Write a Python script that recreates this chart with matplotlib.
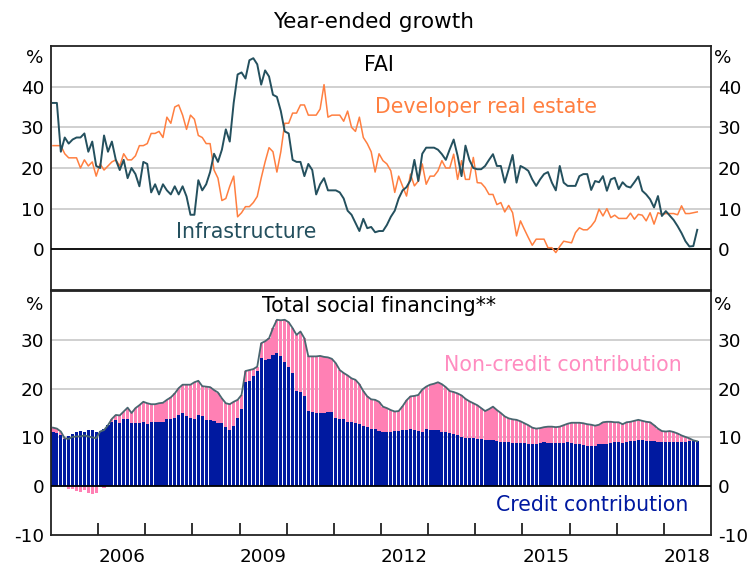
import numpy as np
import matplotlib
matplotlib.use("Agg")
import matplotlib.pyplot as plt
import matplotlib.transforms as mtransforms

plt.rcParams["font.family"] = ["DejaVu Sans"]

# monthly, Jan 2005 - Sep 2018, year-ended growth (%)
infrastructure = [
    36, 36, 24, 27.5, 26, 27, 27.5, 27.5, 28.5, 24, 26.5, 20.5,
    20, 28, 24, 26.5, 22, 19.5, 22, 17.5, 20, 18.5, 15.5, 21.5,
    21, 14, 16, 13.5, 16, 14.5, 13.5, 15.5, 13.5, 15.5, 13, 8.5,
    8.5, 17, 14.5, 16, 19, 23.5, 21.5, 24.5, 29.5, 26.5, 36, 43,
    43.5, 42, 46.5, 47, 45.5, 40.5, 44, 42.5, 38, 37.5, 34, 29,
    28.5, 22, 21.5, 21.5, 18, 21, 19.5, 13.5, 16, 17.5, 14.5, 14.5,
    14.5, 14, 12.5, 9.5, 8.5, 6.5, 4.5, 7.5, 5.2, 5.5, 4.2, 4.5,
    4.5, 6, 8, 9.5, 12.5, 14.5, 15.3, 17, 22, 16.8, 23.5, 25,
    25, 25, 24.5, 23.4, 22, 24.6, 27, 23, 18, 25.5, 22, 20,
    19.7, 19.7, 20.5, 22, 23.4, 20.5, 20.5, 16.4, 19.7, 23.2, 16.4, 20.5,
    20, 19.3, 17.2, 15.6, 17.2, 18.5, 19, 16.4, 14.5, 20.5, 16.4, 15.6,
    15.6, 15.6, 18, 18.5, 18.5, 14.6, 16.8, 16.5, 18, 14.4, 17.2, 17.6,
    14.8, 16.5, 15.5, 15.2, 16.5, 17.9, 14.4, 13.5, 12.3, 10.3, 13.1, 8.2,
    9.4, 8.3, 7.2, 5.7, 4, 2, 0.7, 0.8, 4.8,
]

developer_real_estate = [
    25.5, 25.5, 25.5, 23.5, 22.5, 22.5, 22.5, 20, 22, 20.5, 21.5, 18,
    21, 19.5, 20.5, 21.5, 22, 20.5, 23.5, 22, 22, 23, 25.5, 25.5,
    26, 28.5, 28.5, 29, 27.5, 32.5, 31, 35, 35.5, 33, 29.5, 33,
    32, 28, 27.5, 26, 26, 19.5, 17.5, 12, 12.5, 15.5, 18, 8,
    9, 10.5, 10.5, 11.5, 13, 17.5, 21.5, 25, 24, 19, 24, 31,
    31, 33.5, 33.5, 35.5, 35.5, 33, 33, 33, 34.5, 40.5, 32.5, 33,
    33, 33, 31.5, 34, 30, 29, 32.5, 27.5, 26, 24, 19, 23.5,
    21.8, 21, 19.3, 14, 18, 15.5, 13.1, 18.5, 15.6, 16.8, 21, 16,
    18, 18, 19.3, 21.8, 20, 20, 23.4, 17.2, 21.8, 17.2, 17.2, 22.6,
    16.4, 16.3, 15.2, 13.5, 13.5, 11, 11.5, 9.2, 10.8, 9, 3.3, 7,
    4.9, 2.9, 1, 2.5, 2.5, 2.5, 0.4, 0.4, -0.8, 0.7, 2, 1.8,
    1.6, 4.1, 5.3, 4.8, 4.8, 5.7, 7, 9.9, 8.2, 10, 7.8, 8.4,
    7.6, 7.6, 7.6, 8.9, 7.4, 8.6, 8.4, 7, 9, 6.2, 9, 8.6,
    8.8, 8.8, 8.8, 8.5, 10.7, 8.8, 8.8, 9, 9.2,
]

tsf_total = [
    12, 11.8, 11.2, 9.8, 9.7, 10.1, 10.2, 10.2, 10.4, 10.2, 10.0, 9.8,
    11.2, 11.5, 12.5, 13.8, 14.6, 14.5, 15.3, 16.1, 15, 16, 16.6, 17.3,
    17, 16.8, 16.8, 17, 17.1, 17.7, 18.2, 19, 20.1, 20.8, 20.8, 20.8,
    21.3, 21.6, 20.5, 20.4, 20.3, 19.7, 19.2, 18, 17, 16.8, 17.3, 17.7,
    18.7, 23.6, 23.8, 24.0, 24.5, 29.3, 29.7, 30.3, 32.4, 34.1, 34, 34.1,
    33.6, 32.4, 31, 31.7, 30.3, 26.6, 26.6, 26.6, 26.7, 26.5, 26.4, 26.1,
    25.2, 23.8, 23.2, 22.7, 22.1, 21.8, 20.9, 19.5, 18.4, 17.8, 17.7, 17.3,
    16.3, 16, 15.6, 15.3, 15.4, 16.4, 17.6, 18.4, 18.5, 18.7, 19.8, 20.4,
    20.8, 21, 21.3, 20.9, 20.3, 19.5, 19.3, 19, 18.6, 17.9, 17.4, 17,
    16.6, 16, 15.4, 15.8, 16.3, 15.6, 15, 14.3, 13.9, 13.7, 13.6, 13.3,
    12.9, 12.5, 12, 11.8, 11.9, 12.1, 12.2, 12.2, 12.1, 12.2, 12.5, 12.8,
    13, 13, 13, 12.9, 12.7, 12.6, 12.4, 12.6, 13.1, 13.2, 13.2, 13.1,
    13.1, 12.7, 13.1, 13.2, 13.4, 13.6, 13.4, 13.2, 13.1, 12.5, 11.8, 11.3,
    11.2, 11.3, 11.1, 10.8, 10.4, 10.1, 9.8, 9.4, 9.2,
]

tsf_credit = [
    11.2, 10.8, 10.5, 9.7, 10.3, 10.7, 11.2, 11.4, 11.2, 11.6, 11.5, 11.1,
    11.3, 11.8, 12.5, 13.2, 13.6, 12.9, 13.7, 13.7, 12.9, 12.9, 12.9, 13.1,
    12.7, 13.2, 13.2, 13.2, 13.2, 13.7, 13.7, 14, 14.6, 14.9, 14.4, 14.0,
    13.7, 14.6, 14.4, 13.6, 13.5, 13.4, 12.9, 12.9, 12.2, 11.5, 12.3, 14,
    15.8, 21.4, 21.6, 22.5, 23.6, 26.2, 25.9, 26, 26.8, 27.3, 26.6, 25.5,
    24.5, 23.2, 19.5, 19.4, 18.4, 15.4, 15.3, 14.9, 14.9, 14.9, 15.3, 15.2,
    13.9, 13.8, 13.7, 13.2, 13.2, 12.9, 12.7, 12.4, 12.1, 11.8, 11.7, 11.3,
    11.2, 11.2, 11.2, 11.3, 11.4, 11.5, 11.6, 11.7, 11.5, 11.4, 11.2, 11.7,
    11.6, 11.6, 11.6, 11.2, 11.1, 11, 10.7, 10.5, 10.1, 9.9, 9.9, 9.8,
    9.7, 9.7, 9.5, 9.5, 9.5, 9.2, 9.1, 9.0, 9.0, 8.9, 8.9, 8.9,
    8.8, 8.7, 8.6, 8.6, 8.8, 9.0, 8.9, 8.9, 8.9, 8.9, 8.9, 9.0,
    8.8, 8.7, 8.6, 8.5, 8.3, 8.3, 8.3, 8.6, 8.6, 8.6, 8.8, 9.0,
    9.0, 8.9, 9.1, 9.2, 9.3, 9.5, 9.4, 9.3, 9.3, 9.2, 9.1, 9.0,
    9.0, 9.0, 9.0, 9.0, 9.0, 9.1, 9.2, 9.2, 9.2,
]

year_ticks = list(range(2006, 2019))
label_years = [2006, 2009, 2012, 2015, 2018]

n = len(infrastructure)
t = 2005 + (np.arange(n) + 0.5) / 12
credit = np.array(tsf_credit)
total = np.array(tsf_total)
noncredit = total - credit

c_infra = "#24505e"
c_dev = "#ff7f40"
c_credit = "#0019a0"
c_noncredit = "#ff80b4"
c_total = "#4a6670"
c_grid = "#c4c4c4"

TICK_FS = 13.2
LABEL_FS = 14.8

fig = plt.figure(figsize=(7.49, 5.69), dpi=100)
ax1 = fig.add_axes([51 / 749, 1 - 290 / 569, 660 / 749, 244 / 569])
ax2 = fig.add_axes([51 / 749, 1 - 535 / 569, 660 / 749, 244 / 569])


def style(ax, ylim, yticks, grid, pct_y):
    ax.set_xlim(2005, 2019)
    ax.set_ylim(*ylim)
    for s in ax.spines.values():
        s.set_linewidth(1.3)
        s.set_color("#222222")
    for g in grid:
        ax.axhline(g, color=c_grid, lw=1.1, zorder=0)
    ax.axhline(0, color="black", lw=1.3, zorder=3)
    ax.set_yticks(yticks)
    ax.set_yticklabels([str(v) for v in yticks])
    ax.tick_params(axis="y", length=0, labelsize=TICK_FS, pad=5,
                   left=True, right=True, labelleft=True, labelright=True)
    tr = mtransforms.blended_transform_factory(ax.transAxes, ax.transData)
    ax.text(-0.011, pct_y, "%", transform=tr, ha="right", va="center", fontsize=TICK_FS)
    ax.text(1.005, pct_y, "%", transform=tr, ha="left", va="center", fontsize=TICK_FS)


style(ax1, (-10, 50), [0, 10, 20, 30, 40], [10, 20, 30, 40], 47)
style(ax2, (-10, 40), [-10, 0, 10, 20, 30], [10, 20, 30], 37.2)

# top panel: FAI
ax1.plot(t, developer_real_estate, color=c_dev, lw=1.1, zorder=4)
ax1.plot(t, infrastructure, color=c_infra, lw=1.4, zorder=5)
ax1.set_xticks([])
ax1.text(2011.96, 45.3, "FAI", ha="center", va="center", fontsize=LABEL_FS)
ax1.text(2014.23, 35, "Developer real estate", ha="center", va="center",
         fontsize=LABEL_FS, color=c_dev)
ax1.text(2009.13, 4.2, "Infrastructure", ha="center", va="center",
         fontsize=LABEL_FS, color=c_infra)

# bottom panel: TSF
w = 0.068
ax2.bar(t, credit, width=w, color=c_credit, linewidth=0, zorder=2)
ax2.bar(t, noncredit, bottom=np.where(noncredit > 0, credit, 0), width=w,
        color=c_noncredit, linewidth=0, zorder=2)
ax2.plot(t, total, color=c_total, lw=1.3, zorder=4)
ax2.text(2011.96, 37, "Total social financing**", ha="center", va="center",
         fontsize=LABEL_FS)
ax2.text(2015.85, 24.8, "Non-credit contribution", ha="center", va="center",
         fontsize=LABEL_FS, color="#ff8cc0")
ax2.text(2016.49, -3.9, "Credit contribution", ha="center", va="center",
         fontsize=LABEL_FS, color=c_credit)

ax2.set_xticks(year_ticks)
ax2.set_xticklabels([])
ax2.tick_params(axis="x", which="major", direction="in", length=9, width=1.3,
                color="#222222")
ax2.set_xticks([y + 0.5 for y in label_years], minor=True)
ax2.set_xticklabels([str(y) for y in label_years], minor=True)
ax2.tick_params(axis="x", which="minor", length=0, labelsize=TICK_FS, pad=9)

fig.text(374 / 749, 1 - 22 / 569, "Year-ended growth", ha="center", va="center",
         fontsize=15.5)

fig.savefig("out.png", dpi=100)
